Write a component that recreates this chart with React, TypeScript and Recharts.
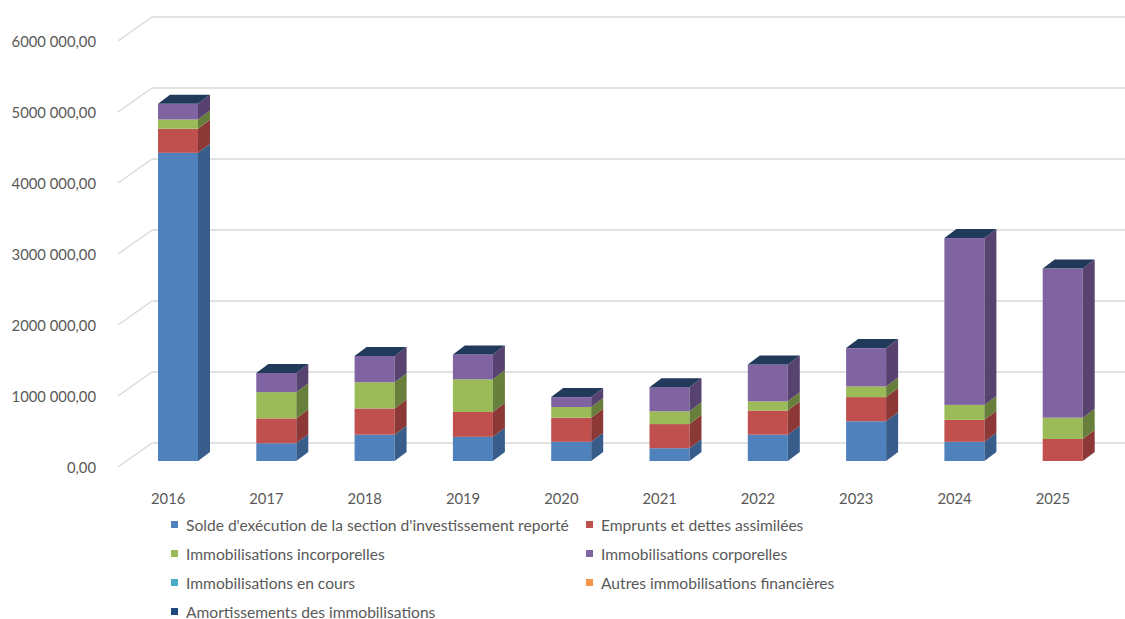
import { BarChart, Bar, XAxis, YAxis, CartesianGrid, Legend } from "recharts";

const years = ["2016", "2017", "2018", "2019", "2020", "2021", "2022", "2023", "2024", "2025"];

// values in euros
const solde = [4340000, 250000, 370000, 340000, 270000, 180000, 370000, 560000, 270000, 0];
const emprunts = [340000, 350000, 370000, 350000, 340000, 340000, 340000, 340000, 310000, 310000];
const incorporelles = [130000, 370000, 370000, 460000, 150000, 180000, 130000, 150000, 210000, 300000];
const corporelles = [220000, 270000, 370000, 350000, 140000, 340000, 520000, 540000, 2350000, 2100000];
const enCours = [0, 0, 0, 0, 0, 0, 0, 0, 0, 0];
const autres = [0, 0, 0, 0, 0, 0, 0, 0, 0, 0];
const amortissements = [0, 0, 0, 0, 0, 0, 0, 0, 0, 0];

const yTicks = [0, 1000000, 2000000, 3000000, 4000000, 5000000, 6000000];

const series = [
  { key: "solde", name: "Solde d'exécution de la section d'investissement reporté", color: "#4f81bd", side: "#385d8a", values: solde },
  { key: "emprunts", name: "Emprunts et dettes assimilées", color: "#c0504d", side: "#8c3836", values: emprunts },
  { key: "incorporelles", name: "Immobilisations incorporelles", color: "#9bbb59", side: "#687f3c", values: incorporelles },
  { key: "corporelles", name: "Immobilisations corporelles", color: "#8064a2", side: "#574270", values: corporelles },
  { key: "enCours", name: "Immobilisations en cours", color: "#4bacc6", side: "#337b8e", values: enCours },
  { key: "autres", name: "Autres immobilisations financières", color: "#f79646", side: "#b56a2d", values: autres },
  { key: "amortissements", name: "Amortissements des immobilisations", color: "#1f497d", side: "#1a3a60", values: amortissements },
];

const data = years.map((year, i) => {
  const row: Record<string, string | number> = { year };
  series.forEach((s) => (row[s.key] = s.values[i]));
  return row;
});

const FONT = "Lato, 'Open Sans', sans-serif";
const TEXT = "#595959";
const DX = 12;
const DY = -9;
const SHIFT = 10;

function formatValue(v: number) {
  const s = Math.round(v).toString();
  const head = s.length > 3 ? s.slice(0, -3) + " " + s.slice(-3) : s;
  return head + ",00";
}

function makeShape(color: string, side: string, isTop: boolean) {
  return (props: any) => {
    const { x, y, width, height } = props;
    if (x == null || y == null) return <g />;
    const x0 = x + SHIFT;
    const x1 = x0 + width;
    const h = Math.max(0, height);
    return (
      <g>
        {h > 0 && <rect x={x0} y={y} width={width} height={h} fill={color} />}
        {h > 0 && (
          <polygon
            points={`${x1},${y} ${x1 + DX},${y + DY} ${x1 + DX},${y + h + DY} ${x1},${y + h}`}
            fill={side}
          />
        )}
        {isTop && (
          <polygon
            points={`${x0},${y} ${x0 + DX},${y + DY} ${x1 + DX},${y + DY} ${x1},${y}`}
            fill="#213a5c"
          />
        )}
      </g>
    );
  };
}

function GridLine(props: any) {
  const { y1, x2 } = props;
  return (
    <g>
      <line x1={118} y1={y1 + 6} x2={152} y2={y1 - 18} stroke="#d9d9d9" strokeWidth={1.5} />
      <line x1={152} y1={y1 - 18} x2={x2 + 30} y2={y1 - 18} stroke="#d9d9d9" strokeWidth={1.5} />
    </g>
  );
}

function YTick(props: any) {
  const { y, payload } = props;
  return (
    <text x={96} y={y + 6} textAnchor="end" dominantBaseline="central" fill={TEXT} fontSize={14.8} fontFamily={FONT}>
      {formatValue(payload.value)}
    </text>
  );
}

function XTick(props: any) {
  const { x, y, payload } = props;
  return (
    <text x={x} y={y + 29} textAnchor="middle" dominantBaseline="central" fill={TEXT} fontSize={14.8} fontFamily={FONT}>
      {payload.value}
    </text>
  );
}

function LegendContent() {
  return (
    <div
      style={{
        display: "grid",
        gridTemplateColumns: "415px 300px",
        fontFamily: FONT,
        fontSize: 15.6,
        color: TEXT,
      }}
    >
      {series.map((s) => (
        <div key={s.key} style={{ height: 29, display: "flex", alignItems: "center", whiteSpace: "nowrap" }}>
          <span style={{ width: 7, height: 7, background: s.color, marginRight: 8, flex: "none" }} />
          {s.name}
        </div>
      ))}
    </div>
  );
}

export default function App() {
  return (
    <div style={{ position: "absolute", left: 0, top: 0, width: 1125, height: 619, background: "#fff" }}>
      <BarChart
        width={1125}
        height={619}
        data={data}
        margin={{ top: 35, right: 23, left: 0, bottom: 128 }}
        barSize={40}
      >
        <CartesianGrid vertical={false} horizontal={(p: any) => <GridLine key={p.key} {...p} />} />
        <XAxis dataKey="year" axisLine={false} tickLine={false} tick={<XTick />} height={30} interval={0} />
        <YAxis
          width={119}
          domain={[0, 6000000]}
          ticks={yTicks}
          axisLine={false}
          tickLine={false}
          tick={<YTick />}
          interval={0}
        />
        <Legend
          layout="horizontal"
          verticalAlign="middle"
          align="center"
          content={<LegendContent />}
          wrapperStyle={{ top: 510, left: 171, width: 720, height: 120 }}
        />
        {series.map((s, i) => (
          <Bar
            key={s.key}
            dataKey={s.key}
            name={s.name}
            stackId="a"
            fill={s.color}
            isAnimationActive={false}
            shape={makeShape(s.color, s.side, i === series.length - 1)}
          />
        ))}
      </BarChart>
    </div>
  );
}
